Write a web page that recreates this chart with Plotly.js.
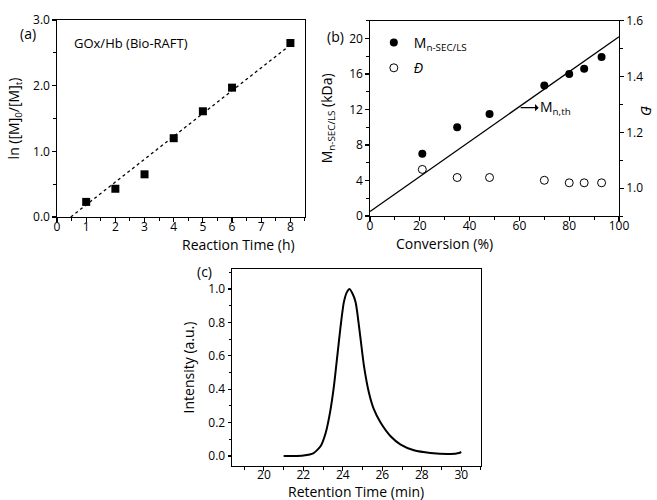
<!DOCTYPE html>
<html>
<head>
<meta charset="utf-8">
<script src="https://cdn.plot.ly/plotly-3.0.1.min.js"></script>
<style>html,body{margin:0;padding:0;background:#fff;}#chart{width:657px;height:500px;}</style>
</head>
<body>
<div id="chart"></div>
<script>
// Panel (a): kinetics
const timeH = [1, 2, 3, 4, 5, 6, 8];
const lnM = [0.23, 0.43, 0.65, 1.20, 1.61, 1.97, 2.65];
const fitTime = [0.47, 8];
const fitLn = [0, 2.62];

// Panel (b): molecular weight vs conversion
const conversion = [21, 35, 48, 70, 80, 86, 93];
const mnSec = [7.0, 10.0, 11.5, 14.7, 16.0, 16.6, 17.9];
const dispersity = [1.067, 1.038, 1.038, 1.028, 1.019, 1.019, 1.019];
const thConv = [0, 100];
const thMn = [0.5, 20.2];

// Panel (c): SEC trace
const retTime = [21.0, 21.5, 22.0, 22.5, 22.87, 23.13, 23.35, 23.55, 23.72, 23.89, 24.05, 24.2, 24.34, 24.5, 24.65, 24.73, 24.9, 25.07, 25.32, 25.57, 25.91, 26.42, 26.93, 27.6, 28.44, 29.46, 29.88, 30.0];
const intensity = [0.0, 0.0, 0.003, 0.016, 0.058, 0.138, 0.26, 0.42, 0.60, 0.78, 0.92, 0.98, 1.0, 0.97, 0.92, 0.86, 0.70, 0.54, 0.38, 0.28, 0.20, 0.118, 0.068, 0.034, 0.018, 0.012, 0.018, 0.024];

// Axis titles
const xTitleA = 'Reaction Time (h)';
const xTitleB = 'Conversion (%)';
const xTitleC = 'Retention Time (min)';

const FONT = "Open Sans, Lato, sans-serif";
const tickFont = {family: FONT, size: 12, color: '#000'};
const titleFont = {family: FONT, size: 14, color: '#000'};

function minorTicks(d) {
  return {ticks: 'outside', ticklen: 2.5, tickwidth: 1, tickcolor: '#000', dtick: d};
}
function axisBase(extra) {
  return Object.assign({
    showline: true, linecolor: '#000', linewidth: 1.2,
    ticks: 'outside', ticklen: 3.5, tickwidth: 1.2, tickcolor: '#000',
    showgrid: false, zeroline: false, tickfont: tickFont,
    fixedrange: true, automargin: false
  }, extra);
}

const traces = [
  {x: fitTime, y: fitLn, xaxis: 'x', yaxis: 'y', mode: 'lines', showlegend: false,
   line: {color: '#000', width: 1.3, dash: 'dot'}},
  {x: timeH, y: lnM, xaxis: 'x', yaxis: 'y', mode: 'markers', showlegend: false,
   marker: {symbol: 'square', size: 8, color: '#000'}},
  {x: thConv, y: thMn, xaxis: 'x2', yaxis: 'y2', mode: 'lines', showlegend: false,
   line: {color: '#000', width: 1.3}},
  {x: conversion, y: mnSec, xaxis: 'x2', yaxis: 'y2', mode: 'markers', name: 'M<sub>n-SEC/LS</sub>',
   legendgroup: 'g1', marker: {symbol: 'circle', size: 8, color: '#000'}},
  {x: conversion, y: dispersity, xaxis: 'x2', yaxis: 'y3', mode: 'markers', name: '<i>Đ</i>',
   legendgroup: 'g2', marker: {symbol: 'circle-open', size: 8, color: '#000', line: {width: 1, color: '#000'}}},
  {x: retTime, y: intensity, xaxis: 'x3', yaxis: 'y4', mode: 'lines', showlegend: false,
   line: {color: '#000', width: 2, shape: 'spline', smoothing: 0.6}}
];

const layout = {
  width: 657, height: 500,
  margin: {l: 0, r: 0, t: 0, b: 0},
  paper_bgcolor: '#fff', plot_bgcolor: '#fff',
  font: {family: FONT, color: '#000'},
  showlegend: true,
  legend: {x: 0.569, y: 0.946, xanchor: 'left', yanchor: 'top', bgcolor: 'rgba(0,0,0,0)',
           font: {family: FONT, size: 14, color: '#000'}, traceorder: 'grouped', tracegroupgap: 4},
  xaxis: axisBase({domain: [0.0868, 0.4642], anchor: 'y', range: [0, 8.5], dtick: 1, tick0: 0,
    minor: minorTicks(0.5), ticklabelstandoff: -5, mirror: true}),
  yaxis: axisBase({domain: [0.566, 0.96], anchor: 'x', range: [0, 3], dtick: 1, tickformat: '.1f',
    minor: minorTicks(0.5),
    mirror: true, title: {text: 'ln ([M]<sub>0</sub>/[M]<sub>t</sub>)', font: titleFont}}),
  xaxis2: axisBase({domain: [0.5632, 0.9422], anchor: 'y2', range: [0, 100], dtick: 20,
    minor: minorTicks(10), ticklabelstandoff: -5, mirror: true}),
  yaxis2: axisBase({domain: [0.568, 0.9586], anchor: 'x2', range: [0, 22], dtick: 4,
    minor: minorTicks(2),
    title: {text: 'M<sub>n-SEC/LS</sub> (kDa)', font: titleFont}}),
  yaxis3: axisBase({domain: [0.568, 0.9586], anchor: 'x2', overlaying: 'y2', side: 'right',
    range: [0.9, 1.6], dtick: 0.2, tick0: 1.0, tickformat: '.1f',
    minor: minorTicks(0.1)}),
  xaxis3: axisBase({domain: [0.3536, 0.7321], anchor: 'y4', range: [18.4, 31], dtick: 2, tick0: 20,
    minor: minorTicks(1), ticklabelstandoff: -6, mirror: true}),
  yaxis4: axisBase({domain: [0.068, 0.462], anchor: 'x3', range: [-0.06, 1.12], dtick: 0.2, tick0: 0, tickformat: '.1f',
    minor: minorTicks(0.1),
    mirror: true, title: {text: 'Intensity (a.u.)', font: titleFont}}),
  annotations: [
    {text: xTitleA, xref: 'paper', yref: 'paper', x: 181 / 657, y: 1 - 244 / 500, yanchor: 'middle',
     showarrow: false, font: titleFont, borderpad: 0},
    {text: xTitleB, xref: 'paper', yref: 'paper', x: 494 / 657, y: 1 - 243 / 500, yanchor: 'middle',
     showarrow: false, font: titleFont, borderpad: 0},
    {text: xTitleC, xref: 'paper', yref: 'paper', x: 356 / 657, y: 1 - 491 / 500, yanchor: 'middle',
     showarrow: false, font: titleFont, borderpad: 0},
    {text: '(a)', xref: 'paper', yref: 'paper', x: 18 / 657, y: 1 - 22 / 500, showarrow: false,
     font: {family: FONT, size: 14, color: '#000'}},
    {text: '(b)', xref: 'paper', yref: 'paper', x: 335 / 657, y: 1 - 25 / 500, showarrow: false,
     font: {family: FONT, size: 14, color: '#000'}},
    {text: '(c)', xref: 'paper', yref: 'paper', x: 196 / 657, y: 1 - 271 / 500, showarrow: false,
     font: {family: FONT, size: 14, color: '#000'}, borderpad: 0},
    {text: 'GOx/Hb (Bio-RAFT)', xref: 'x', yref: 'y', x: 0.5, y: 2.65, xanchor: 'left', showarrow: false,
     font: {family: FONT, size: 13, color: '#000'}},
    {text: 'M<sub>n,th</sub>', xref: 'x2', yref: 'y2', x: 60.5, y: 12.2, ax: 35, ay: 0,
     showarrow: true, arrowside: 'start', arrowhead: 2, arrowsize: 1, arrowwidth: 1.2, arrowcolor: '#000',
     font: {family: FONT, size: 14, color: '#000'}},
    {text: '<i>Đ</i>', xref: 'paper', yref: 'paper', x: 646 / 657, y: 1 - 110 / 500, textangle: 90,
     xanchor: 'center', yanchor: 'middle',
     showarrow: false, font: {family: FONT, size: 14, color: '#000'}}
  ]
};

Plotly.newPlot('chart', traces, layout, {displayModeBar: false, staticPlot: true});
</script>
</body>
</html>
